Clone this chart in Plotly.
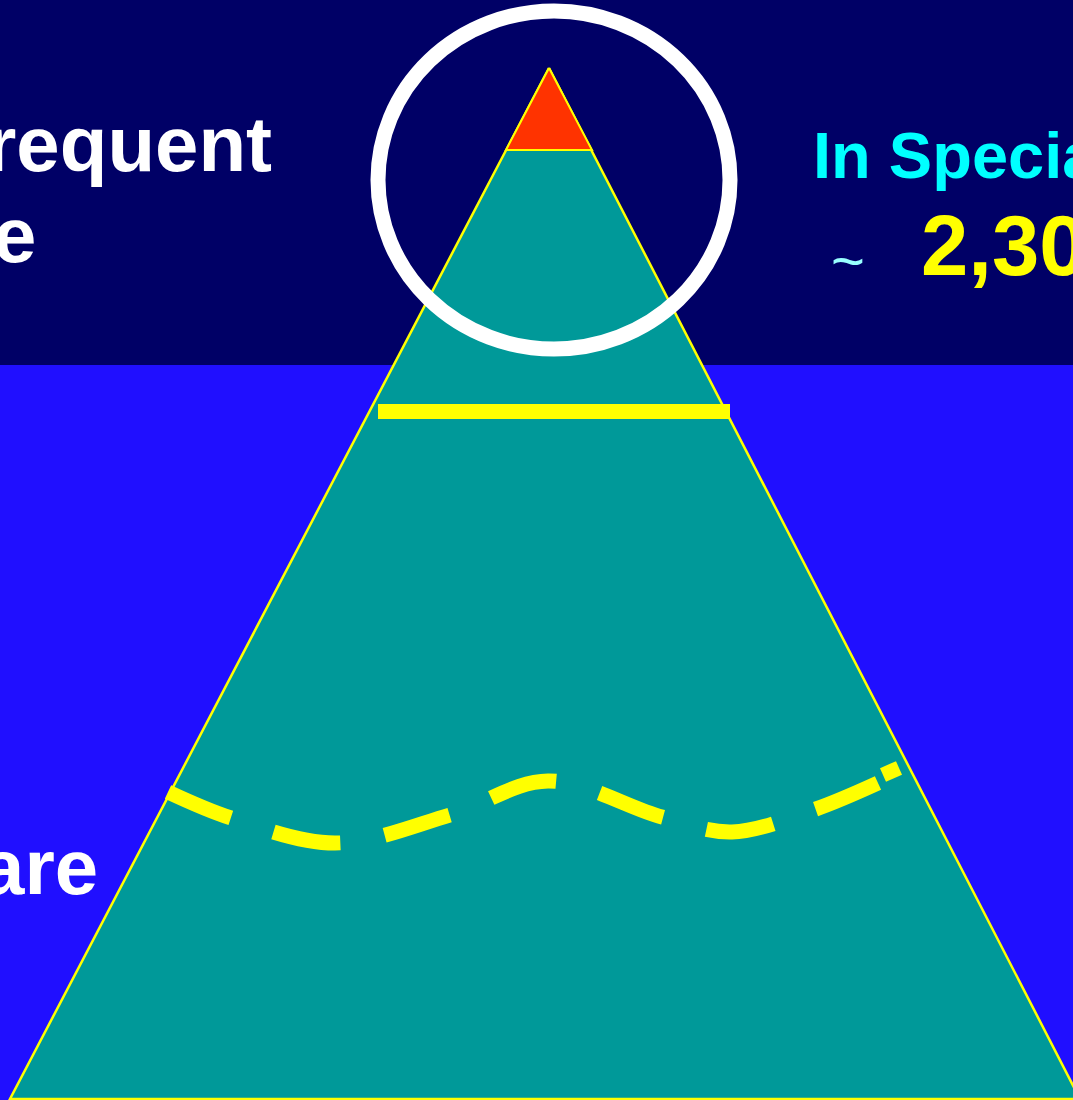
import plotly.graph_objects as go

# Canvas size (pixels) -- axes are mapped 1:1 onto it
W, H = 1073, 1100

# Background bands: dark upper band and bright blue lower band
band_split = 365
upper_band_color = "#000066"
lower_band_color = "#200FFF"

# Main pyramid (apex, base-left, base-right)
pyramid_x = [549, 10, 1080, 549]
pyramid_y = [68, 1099, 1099, 68]

# Tip of the pyramid
tip_x = [549, 506, 592, 549]
tip_y = [68, 150, 150, 68]

# Solid divider inside the pyramid
divider_x = [378, 730]
divider_y = [411.5, 411.5]

# Wavy dashed boundary lower in the pyramid
wave_x = [168, 231, 335, 450, 548, 662, 732, 813, 878]
wave_y = [792, 818, 843, 815, 781, 817, 832, 810, 783]

# Short closing stroke at the right end of the wave
wave_tail_x = [883, 899]
wave_tail_y = [775, 768]

# Highlight ellipse around the tip (x0, y0, x1, y1)
ring = (378, 11, 730, 349)

teal = "#009999"
yellow = "#FFFF00"
red = "#FF3300"

fig = go.Figure()

fig.add_trace(go.Scatter(
    x=pyramid_x, y=pyramid_y, mode="lines", fill="toself",
    fillcolor=teal, line=dict(color=yellow, width=2.5),
    hoverinfo="skip", showlegend=False))

fig.add_trace(go.Scatter(
    x=tip_x, y=tip_y, mode="lines", fill="toself",
    fillcolor=red, line=dict(color=yellow, width=2),
    hoverinfo="skip", showlegend=False))

fig.add_trace(go.Scatter(
    x=divider_x, y=divider_y, mode="lines",
    line=dict(color=yellow, width=15),
    hoverinfo="skip", showlegend=False))

fig.add_trace(go.Scatter(
    x=wave_x, y=wave_y, mode="lines",
    line=dict(color=yellow, width=15, shape="spline", dash="68px,45px"),
    hoverinfo="skip", showlegend=False))

fig.add_trace(go.Scatter(
    x=wave_tail_x, y=wave_tail_y, mode="lines",
    line=dict(color=yellow, width=15),
    hoverinfo="skip", showlegend=False))

shapes = [
    dict(type="rect", xref="x", yref="y", x0=0, x1=W, y0=0, y1=band_split,
         fillcolor=upper_band_color, line_width=0, layer="below"),
    dict(type="rect", xref="x", yref="y", x0=0, x1=W, y0=band_split, y1=H,
         fillcolor=lower_band_color, line_width=0, layer="below"),
    dict(type="circle", xref="x", yref="y", x0=ring[0], y0=ring[1],
         x1=ring[2], y1=ring[3], line=dict(color="white", width=15),
         fillcolor="rgba(0,0,0,0)", layer="above"),
]

FONT = "Arial, Liberation Sans, sans-serif"

def label(text, x, y, size, color, anchor):
    return dict(text=f"<b>{text}</b>", x=x, y=y, xref="x", yref="y",
                xanchor=anchor, yanchor="middle", showarrow=False,
                font=dict(family=FONT, size=size, color=color))

annotations = [
    label("requent", 274, 144, 78, "white", "right"),
    label("e", 38, 235, 78, "white", "right"),
    label("are", 100, 867, 78, "white", "right"),
    label("In Specialty", 811, 155, 65, "#00FFFF", "left"),
    dict(text="~", x=848, y=260, xref="x", yref="y", xanchor="center",
         yanchor="middle", showarrow=False,
         font=dict(family=FONT, size=58, color="#99FFFF")),
    label("2,300", 919, 245, 85, yellow, "left"),
]

fig.update_layout(
    width=W, height=H, autosize=False,
    margin=dict(l=0, r=0, t=0, b=0, pad=0),
    paper_bgcolor=lower_band_color, plot_bgcolor=lower_band_color,
    xaxis=dict(range=[0, W], visible=False, fixedrange=True),
    yaxis=dict(range=[H, 0], visible=False, fixedrange=True),
    shapes=shapes, annotations=annotations,
)

fig.write_html("out.html")
